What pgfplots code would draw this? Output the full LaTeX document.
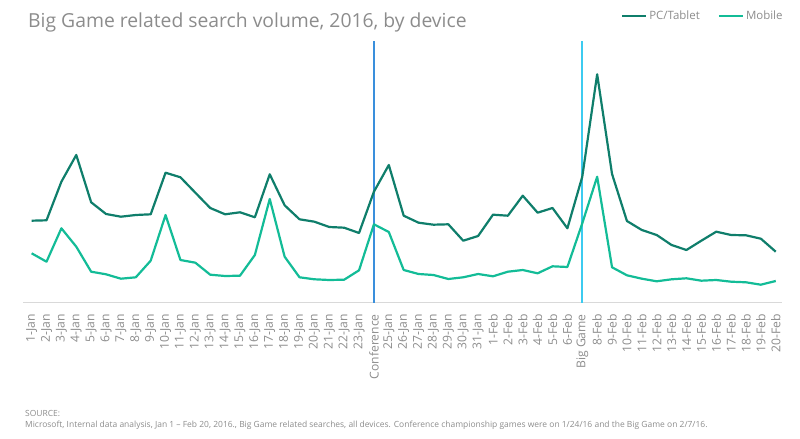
\documentclass[border=0pt]{standalone}
\usepackage{pgfplots}
\pgfplotsset{compat=1.18}
\usepackage{fontspec}
\setmainfont{Open Sans}
\definecolor{pcc}{HTML}{0F7E6B}
\definecolor{mobc}{HTML}{13BC97}
\definecolor{confc}{HTML}{3A8FDC}
\definecolor{bigc}{HTML}{3CCBF0}
\definecolor{txtc}{HTML}{8C8C8C}
\begin{document}
\begin{tikzpicture}
\path[use as bounding box] (0,0) rectangle (800bp,439bp);
\node[anchor=base west, inner sep=0, text=txtc, font=\fontsize{19.4}{21}\selectfont] at (28bp,411bp) {Big Game related search volume, 2016, by device};
\node[anchor=base west, inner sep=0, text=txtc, font=\fontsize{8.5}{10}\selectfont] at (25bp,23bp) {SOURCE:};
\node[anchor=base west, inner sep=0, text=txtc, font=\fontsize{8.5}{10}\selectfont] at (25bp,12bp) {Microsoft, Internal data analysis, Jan 1 -- Feb 20, 2016., Big Game related searches, all devices. Conference championship games were on 1/24/16 and the Big Game on 2/7/16.};
\begin{axis}[
  at={(23bp,136bp)}, anchor=south west,
  scale only axis, width=758.7bp, height=262bp,
  xmin=-0.58, xmax=50.4, ymin=0, ymax=262,
  axis x line*=bottom, axis y line=none,
  x axis line style={draw=black!15, line width=1bp, -},
  major tick length=0pt,
  xtick={0,...,50},
  xticklabels={1-Jan,2-Jan,3-Jan,4-Jan,5-Jan,6-Jan,7-Jan,8-Jan,9-Jan,10-Jan,11-Jan,12-Jan,13-Jan,14-Jan,15-Jan,16-Jan,17-Jan,18-Jan,19-Jan,20-Jan,21-Jan,22-Jan,23-Jan,Conference,25-Jan,26-Jan,27-Jan,28-Jan,29-Jan,30-Jan,31-Jan,1-Feb,2-Feb,3-Feb,4-Feb,5-Feb,6-Feb,Big Game,8-Feb,9-Feb,10-Feb,11-Feb,12-Feb,13-Feb,14-Feb,15-Feb,16-Feb,17-Feb,18-Feb,19-Feb,20-Feb},
  xticklabel style={rotate=90, anchor=east, text=txtc, font=\fontsize{12.2}{13}\selectfont, inner sep=0pt, xshift=-11bp},
  legend style={at={(1,1)}, anchor=south east, xshift=3bp, yshift=18bp, draw=none, fill=none, inner sep=0pt,
    font=\fontsize{11.5}{12}\selectfont, text=txtc, /tikz/every even column/.append style={column sep=16bp}},
  legend columns=2,
  legend image code/.code={\draw[#1, line width=2.2bp] (0bp,0bp) -- (24bp,0bp);},
  legend cell align=left,
]
\addplot[confc, line width=1.8bp, forget plot] coordinates {(23,0) (23,262)};
\addplot[bigc, line width=1.8bp, forget plot] coordinates {(37,0) (37,262)};
\addplot[pcc, line width=2.2bp, line join=round] table[x=x, y=y] {
x y
0 82.3
1 82.7
2 121.3
3 148
4 100.7
5 89
6 86.3
7 88
8 88.7
9 130.3
10 125.7
11 110.3
12 95
13 88.7
14 90.7
15 85.7
16 128.7
17 97.7
18 83.7
19 81.3
20 76
21 75.3
22 70
23 111.3
24 138
25 87.3
26 80.3
27 78.3
28 78.7
29 62.3
30 67
31 88.3
32 87.3
33 107.3
34 90.3
35 95
36 74.7
37 126.3
38 228.7
39 129
40 82
41 73
42 68
43 58
44 53
45 62.3
46 71.3
47 68
48 67.7
49 64.3
50 51.3
};
\addlegendentry{PC/Tablet}
\addplot[mobc, line width=2.2bp, line join=round] table[x=x, y=y] {
x y
0 49.7
1 41.3
2 74.7
3 56.3
4 31.3
5 28.7
6 24.3
7 25.7
8 42.3
9 88
10 43
11 40.3
12 28.3
13 27
14 27.3
15 48
16 104
17 46.3
18 25.7
19 23.7
20 23
21 23.3
22 32.7
23 78.7
24 71
25 33
26 29
27 28
28 24
29 25.7
30 29
31 26.7
32 31.3
33 33
34 29.7
35 36.7
36 36
37 79.7
38 126.3
39 35.7
40 27.7
41 24.3
42 21.7
43 23.7
44 24.7
45 22.3
46 23
47 21.3
48 20.7
49 18.3
50 22
};
\addlegendentry{Mobile}
\end{axis}
\end{tikzpicture}
\end{document}
